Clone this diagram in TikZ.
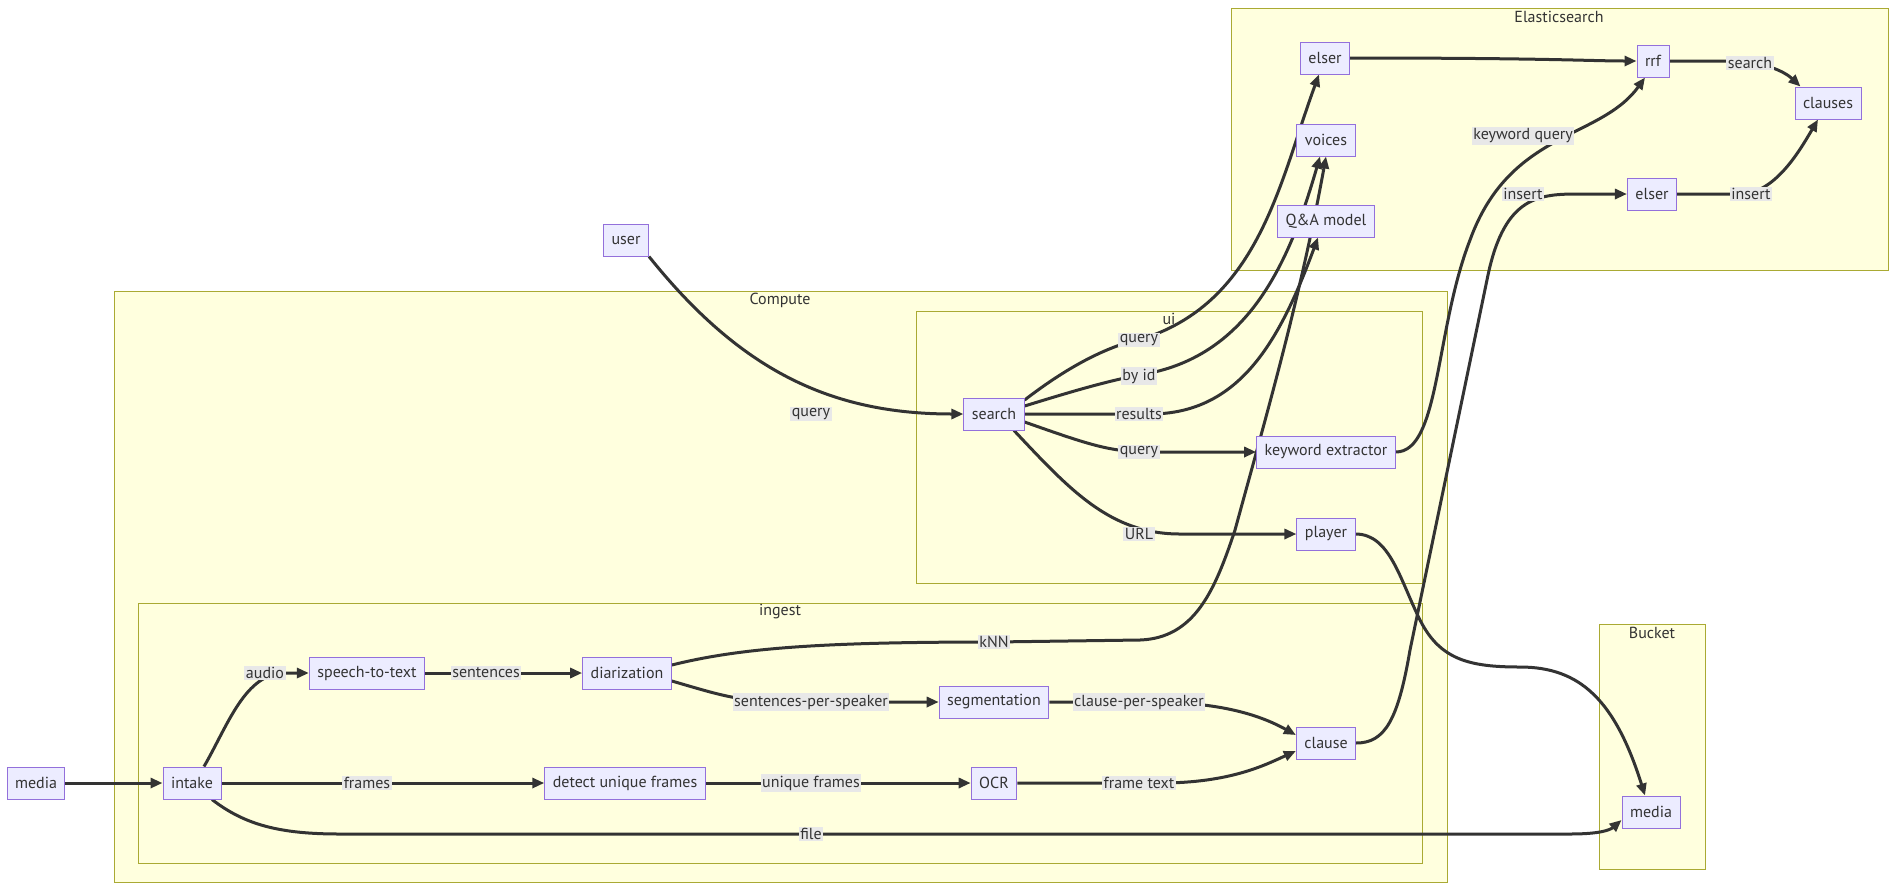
\documentclass[tikz,border=0pt]{standalone}
\usepackage{fontspec}
\setmainfont{PT Sans}
\usetikzlibrary{arrows.meta}
\definecolor{clusterfill}{HTML}{FFFFDE}
\definecolor{clusterline}{HTML}{AAAA33}
\definecolor{nodefill}{HTML}{ECECFF}
\definecolor{nodeline}{HTML}{9370DB}
\definecolor{edgegray}{HTML}{333333}
\definecolor{labelfill}{HTML}{E8E8E8}
\pgfdeclarelayer{back}
\pgfdeclarelayer{mid}
\pgfsetlayers{back,mid,main}

\begin{document}
\begin{tikzpicture}[x=0.5pt, y=-0.5pt,
      box/.style={draw=nodeline, fill=nodefill, line width=0.5pt,
                  minimum height=16pt, inner xsep=4pt, inner ysep=0pt,
                  font=\fontsize{8}{9}\selectfont, text=edgegray},
      lbl/.style={fill=labelfill, inner sep=0.8pt,
                  font=\fontsize{8}{9}\selectfont, text=edgegray},
      cluster/.style={draw=clusterline, fill=clusterfill, line width=0.5pt},
      ctitle/.style={font=\fontsize{8}{9}\selectfont, text=edgegray},
      arr/.style={-{Triangle[length=6pt, width=5pt]}, line width=1.5pt, edgegray}]
    \useasboundingbox (0,0) rectangle (1904,895);
    \begin{pgfonlayer}{back}
      \fill[white] (0,0) rectangle (1904,895);
      \draw[cluster] (1231,8) rectangle (1888,270);
      \draw[cluster] (114,291) rectangle (1447,882);
      \draw[cluster] (916,311) rectangle (1422,583);
      \draw[cluster] (138,603) rectangle (1422,863);
      \draw[cluster] (1599,624) rectangle (1705,869);
    \end{pgfonlayer}
    \node[ctitle] (tEs)      at (1559,17)  {Elasticsearch};
    \node[ctitle] (tCompute) at (780,300)  {Compute};
    \node[ctitle] (tUi)      at (1169,319) {ui};
    \node[ctitle] (tIngest)  at (780,612)  {ingest};
    \node[ctitle] (tBucket)  at (1652,633) {Bucket};

    % Elasticsearch
    \node[box] (elserA)  at (1325,58)  {elser};
    \node[box] (voices)  at (1326,140) {voices};
    \node[box] (qa)      at (1326,221) {Q\&A model};
    \node[box] (rrf)     at (1653,61)  {rrf};
    \node[box] (elserB)  at (1652,194) {elser};
    \node[box] (clauses) at (1828,103) {clauses};
    \node[box] (user)    at (626,240)  {user};
    % ui
    \node[box] (search) at (994,414)  {search};
    \node[box] (kwx)    at (1326,452) {keyword extractor};
    \node[box] (player) at (1326,534) {player};
    % ingest
    \node[box] (stt)    at (367,673)  {speech-to-text};
    \node[box] (diar)   at (627,673)  {diarization};
    \node[box] (seg)    at (994,702)  {segmentation};
    \node[box] (clause) at (1326,743) {clause};
    \node[box] (mediaL) at (36,783)   {media};
    \node[box] (intake) at (192,783)  {intake};
    \node[box] (frames) at (625,783)  {detect unique frames};
    \node[box] (ocr)    at (994,783)  {OCR};
    \node[box] (mediaB) at (1651,812) {media};

    \begin{pgfonlayer}{mid}
      \draw[arr] (user.south east) .. controls (740,370) and (830,414) .. (search.west);
      \draw[arr] ([yshift=7pt]search.east) .. controls (1070,365) and (1110,345) .. (1145,338)
                 .. controls (1260,300) and (1280,180) .. ([xshift=-3pt]elserA.south);
      \draw[arr] ([yshift=4pt]search.east) .. controls (1070,392) and (1110,380) .. (1145,374)
                 .. controls (1250,355) and (1290,260) .. ([xshift=-3pt]voices.south);
      \draw[arr] (search.east) -- (1150,414) .. controls (1240,414) and (1280,340) .. ([xshift=-4pt]qa.south);
      \draw[arr] ([yshift=-4pt]search.east) .. controls (1090,445) and (1110,452) .. (1150,452) -- (kwx.west);
      \draw[arr] ([xshift=10pt]search.south) .. controls (1070,490) and (1110,534) .. (1180,534) -- (player.west);
      \draw[arr] (elserA.east) .. controls (1550,58) and (1590,61) .. (rrf.west);
      \draw[arr] (rrf.east) -- (1725,61) .. controls (1765,61) and (1785,72) .. ([xshift=3pt]clauses.north west);
      \draw[arr] (kwx.east) .. controls (1440,452) and (1435,330) .. (1470,240)
                 .. controls (1510,130) and (1600,140) .. ([xshift=-4pt]rrf.south);
      \draw[arr] (clause.east) .. controls (1385,743) and (1398,720) .. (1410,650) -- (1488,275)
                 .. controls (1505,195) and (1540,194) .. (1580,194) -- (elserB.west);
      \draw[arr] (elserB.east) -- (1740,194) .. controls (1775,194) and (1800,150) .. ([xshift=-5pt]clauses.south);
      \draw[arr] ([yshift=4pt]diar.east) .. controls (740,648) and (820,642) .. (994,642) -- (1140,640)
                 .. controls (1195,638) and (1215,590) .. (1235,530)
                 .. controls (1265,420) and (1300,300) .. (voices.south);
      \draw[arr] (mediaL.east) -- (intake.west);
      \draw[arr] ([xshift=6pt]intake.north) .. controls (228,725) and (245,673) .. (285,673) -- (stt.west);
      \draw[arr] (stt.east) -- (diar.west);
      \draw[arr] ([yshift=-4pt]diar.east) .. controls (720,695) and (740,702) .. (790,702) -- (seg.west);
      \draw[arr] (seg.east) -- (1150,702) .. controls (1220,702) and (1260,715) .. ([yshift=4pt]clause.west);
      \draw[arr] (intake.east) -- (frames.west);
      \draw[arr] (frames.east) -- (ocr.west);
      \draw[arr] (ocr.east) -- (1160,783) .. controls (1230,783) and (1265,765) .. ([yshift=-4pt]clause.west);
      \draw[arr] ([xshift=10pt]intake.south) .. controls (245,825) and (280,834) .. (340,834) -- (1570,834)
                 .. controls (1600,834) and (1610,830) .. ([yshift=-4pt]mediaB.west);
      \draw[arr] (player.east) .. controls (1390,534) and (1400,580) .. (1420,620)
                 .. controls (1440,660) and (1470,667) .. (1520,667)
                 .. controls (1580,667) and (1615,700) .. ([xshift=-3pt]mediaB.north);
    \end{pgfonlayer}

    % edge labels
    \node[lbl] (lUser)    at (811,414)  {query};
    \node[lbl] (lElser)   at (1139,340) {query};
    \node[lbl] (lById)    at (1139,376) {by id};
    \node[lbl] (lResults) at (1139,414) {results};
    \node[lbl] (lKwx)     at (1139,452) {query};
    \node[lbl] (lUrl)     at (1139,534) {URL};
    \node[lbl] (lSearch)  at (1750,63)  {search};
    \node[lbl] (lKwq)     at (1523,136) {keyword query};
    \node[lbl] (lInsA)    at (1523,194) {insert};
    \node[lbl] (lInsB)    at (1751,194) {insert};
    \node[lbl] (lKnn)     at (994,642)  {kNN};
    \node[lbl] (lAudio)   at (265,673)  {audio};
    \node[lbl] (lSent)    at (486,673)  {sentences};
    \node[lbl] (lSps)     at (811,702)  {sentences-per-speaker};
    \node[lbl] (lCps)     at (1139,702) {clause-per-speaker};
    \node[lbl] (lFrames)  at (367,783)  {frames};
    \node[lbl] (lUnique)  at (811,783)  {unique frames};
    \node[lbl] (lText)    at (1139,783) {frame text};
    \node[lbl] (lFile)    at (811,834)  {file};
  \end{tikzpicture}
\end{document}
